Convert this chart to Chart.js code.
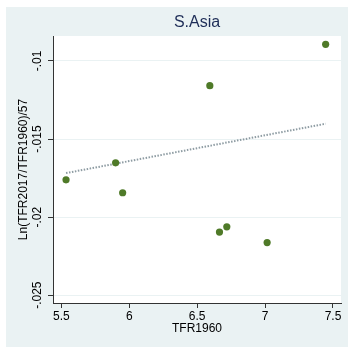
<!DOCTYPE html>
<html><head><meta charset="utf-8">
<script src="https://cdn.jsdelivr.net/npm/chart.js@4/dist/chart.umd.min.js"></script>
<style>html,body{margin:0;padding:0;background:#fff}#w{width:348px;height:347px}</style>
</head><body><div id="w"><canvas id="c" width="348" height="347"></canvas></div>
<script>
const chartTitle = "S.Asia";
const xTitle = "TFR1960";
const yTitle = "Ln(TFR2017/TFR1960)/57";
const tfr1960 = [7.446, 6.593, 5.534, 5.899, 5.951, 6.664, 6.718, 7.015];
const growth = [-0.00893, -0.01158, -0.01761, -0.01652, -0.01844, -0.02096, -0.02062, -0.02163];
const fitX = [5.534, 7.446];
const fitY = [-0.01718, -0.01402];
const xTicks = [5.5, 6, 6.5, 7, 7.5];
const xTickLabels = ["5.5", "6", "6.5", "7", "7.5"];
const yTicks = [-0.025, -0.02, -0.015, -0.01];
const yTickLabels = ["-.025", "-.02", "-.015", "-.01"];

const FONT = '"Liberation Sans", Arial, sans-serif';
const panelPlugin = {
  id: 'panel',
  beforeDraw(chart) {
    const ctx = chart.ctx, a = chart.chartArea;
    ctx.save();
    ctx.fillStyle = '#ffffff';
    ctx.fillRect(0, 0, chart.width, chart.height);
    ctx.fillStyle = '#eaf2f3';
    ctx.fillRect(6, 7, chart.width - 6, chart.height - 7);
    ctx.fillStyle = '#ffffff';
    ctx.fillRect(a.left, a.top, a.right - a.left, a.bottom - a.top);
    ctx.restore();
  },
  afterDraw(chart) {
    const ctx = chart.ctx, a = chart.chartArea;
    const xs = chart.scales.x, ys = chart.scales.y;
    ctx.save();
    ctx.fillStyle = '#1e2d57';
    ctx.font = '16px ' + FONT;
    ctx.textAlign = 'center';
    ctx.textBaseline = 'middle';
    ctx.fillText(chartTitle, (a.left + a.right) / 2, 22.5);
    ctx.fillStyle = '#000000';
    ctx.font = '12px ' + FONT;
    xTicks.forEach((v, i) => ctx.fillText(xTickLabels[i], xs.getPixelForValue(v), 316.5));
    ctx.fillText(xTitle, (a.left + a.right) / 2, 328.5);
    yTicks.forEach((v, i) => {
      ctx.save();
      ctx.translate(38, ys.getPixelForValue(v));
      ctx.rotate(-Math.PI / 2);
      ctx.fillText(yTickLabels[i], 0, 0);
      ctx.restore();
    });
    ctx.save();
    ctx.translate(24, (a.top + a.bottom) / 2);
    ctx.rotate(-Math.PI / 2);
    ctx.fillText(yTitle, 0, 0);
    ctx.restore();
    ctx.restore();
  }
};

new Chart(document.getElementById('c'), {
  type: 'scatter',
  data: {
    datasets: [
      {
        type: 'line',
        data: fitX.map((x, i) => ({x: x, y: fitY[i]})),
        borderColor: '#8e9ca3',
        borderWidth: 2,
        borderDash: [1.5, 1.5],
        pointRadius: 0,
        fill: false,
        order: 2
      },
      {
        data: tfr1960.map((x, i) => ({x: x, y: growth[i]})),
        backgroundColor: '#4f7a28',
        borderColor: '#4f7a28',
        borderWidth: 0,
        pointRadius: 3.6,
        order: 1
      }
    ]
  },
  options: {
    responsive: false,
    animation: false,
    devicePixelRatio: 1,
    layout: {padding: {left: 0, right: 7, top: 36, bottom: 0}},
    plugins: {legend: {display: false}, tooltip: {enabled: false}, title: {display: false}},
    scales: {
      x: {
        type: 'linear', min: 5.438, max: 7.559,
        afterBuildTicks: s => { s.ticks = xTicks.map(v => ({value: v})); },
        afterFit: s => { s.height = 44; },
        ticks: {display: false},
        grid: {drawOnChartArea: false, drawTicks: true, tickLength: 5, tickColor: '#333', tickWidth: 1},
        border: {display: true, color: '#333', width: 1}
      },
      y: {
        type: 'linear', min: -0.0255, max: -0.0084,
        afterBuildTicks: s => { s.ticks = yTicks.map(v => ({value: v})); },
        afterFit: s => { s.width = 53; },
        ticks: {display: false},
        grid: {drawOnChartArea: true, color: '#eaf2f3', lineWidth: 1, drawTicks: true, tickLength: 5, tickColor: '#333', tickWidth: 1},
        border: {display: true, color: '#333', width: 1}
      }
    }
  },
  plugins: [panelPlugin]
});
</script>
</body></html>
